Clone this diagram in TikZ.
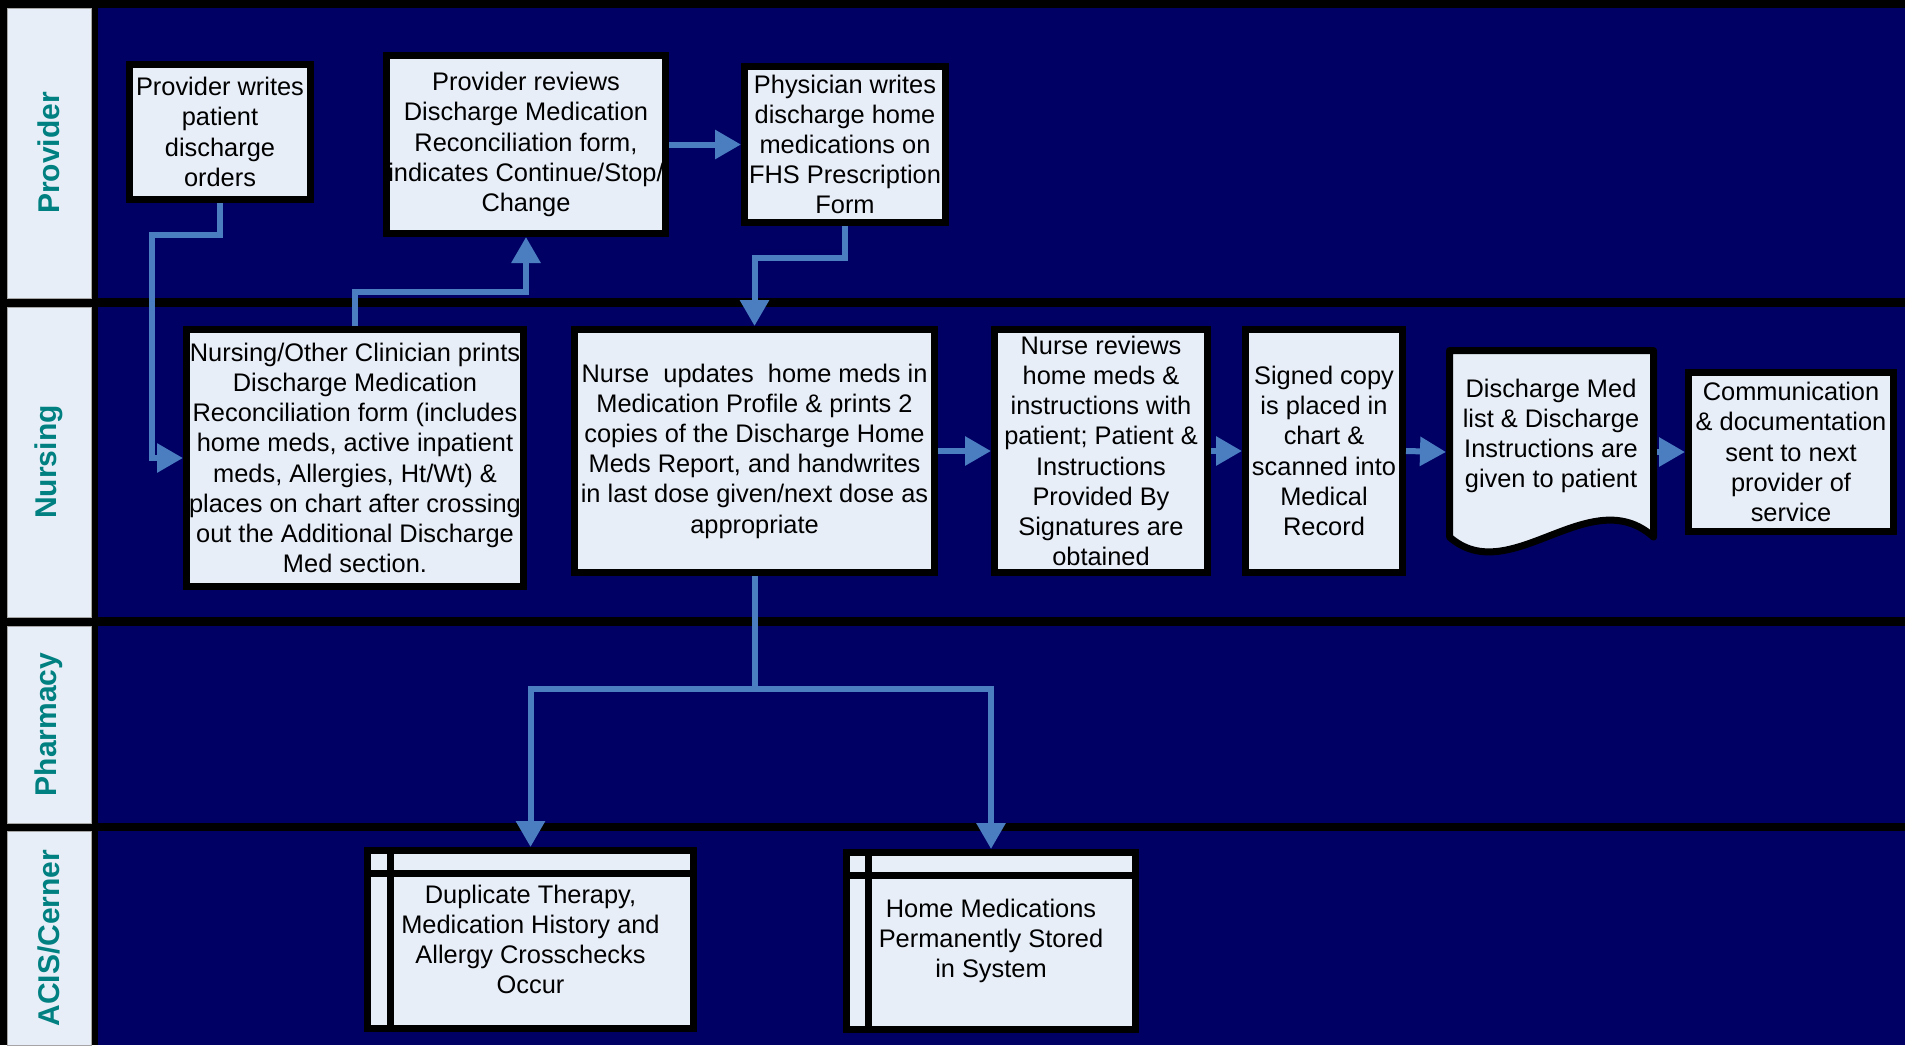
\documentclass[tikz,border=0pt]{standalone}
\usepackage{fontspec}
\setmainfont{Liberation Sans}
\usetikzlibrary{arrows.meta,calc}
\definecolor{navy}{RGB}{0,0,100}
\definecolor{boxfill}{RGB}{232,238,248}
\definecolor{teal2}{RGB}{0,128,128}
\definecolor{conn}{RGB}{74,126,193}
\begin{document}
\begin{tikzpicture}[x=0.5pt,y=-0.5pt,
  lanebox/.style={fill=boxfill,draw=gray!70,line width=0.5pt},
  lanefill/.style={fill=navy},
  lanelabel/.style={rotate=90,text=teal2,font=\fontsize{15}{17}\selectfont\bfseries},
  box/.style={draw=black,line width=3.5pt,fill=boxfill,inner sep=0pt,align=center,
    font=\fontsize{12.7}{15.1}\selectfont},
  txt/.style={inner sep=0pt,align=center,font=\fontsize{12.7}{15.1}\selectfont},
  flow/.style={draw=conn,line width=3pt,-{Triangle[length=13pt,width=14pt]}},
  flowline/.style={draw=conn,line width=3pt}
]
% background
\fill[black] (0,0) rectangle (1905,1045);
\useasboundingbox (0,0) rectangle (1905,1045);
% lanes
\fill[lanefill] (98,8) rectangle (1905,298);
\fill[lanefill] (98,307) rectangle (1905,617);
\fill[lanefill] (98,626) rectangle (1905,823);
\fill[lanefill] (98,831) rectangle (1905,1045);
\draw[lanebox] (7,8) rectangle (91,298);
\draw[lanebox] (7,307) rectangle (91,617);
\draw[lanebox] (7,626) rectangle (91,823);
\draw[lanebox] (7,831) rectangle (91,1045);
\node[lanelabel] (lp) at (49,153) {Provider};
\node[lanelabel] (ln) at (49,462) {Nursing};
\node[lanelabel] (lph) at (49,724.5) {Pharmacy};
\node[lanelabel] (la) at (49,938) {ACIS/Cerner};

% Provider lane
\node[box,minimum width=90.5pt,minimum height=67.5pt] (b1) at (220,132)
  {Provider writes\\patient\\discharge\\orders};
\node[box,minimum width=139.5pt,minimum height=89pt] (b2) at (526,144.5)
  {Provider reviews\\Discharge Medication\\Reconciliation form,\\indicates Continue/Stop/\\Change};
\node[box,minimum width=100.5pt,minimum height=78pt] (b3) at (845,144.5)
  {Physician writes\\discharge home\\medications on\\FHS Prescription\\Form};

% Nursing lane
\node[box,minimum width=168.5pt,minimum height=128.5pt] (b4) at (355,458)
  {Nursing/Other Clinician prints\\Discharge Medication\\Reconciliation form (includes\\home meds, active inpatient\\meds, Allergies, Ht/Wt) \&\\places on chart after crossing\\out the Additional Discharge\\Med section.};
\node[box,minimum width=180pt,minimum height=121.5pt] (b5) at (754.5,451)
  {Nurse\ \ updates\ \ home meds in\\Medication Profile \& prints 2\\copies of the Discharge Home\\Meds Report, and handwrites\\in last dose given/next dose as\\appropriate};
\node[box,minimum width=106.5pt,minimum height=121.5pt] (b6) at (1101,451)
  {Nurse reviews\\home meds \&\\instructions with\\patient; Patient \&\\Instructions\\Provided By\\Signatures are\\obtained};
\node[box,minimum width=78.5pt,minimum height=121.5pt] (b7) at (1324,451)
  {Signed copy\\is placed in\\chart \&\\scanned into\\Medical\\Record};
% document shape
\draw[draw=black,line width=3.5pt,fill=boxfill,line join=round]
  (1449.5,350.5) -- (1653.5,350.5) -- (1653.5,537)
  .. controls (1590,480) and (1510,590) .. (1449.5,537) -- cycle;
\node[txt] (b8) at (1551,436)
  {Discharge Med\\list \& Discharge\\Instructions are\\given to patient};
\coordinate (docW) at (1446,452);
\coordinate (docE) at (1657,452);
\node[box,minimum width=102.5pt,minimum height=79.5pt] (b9) at (1791,452)
  {Communication\\\& documentation\\sent to next\\provider of\\service};

% ACIS lane
\node[box,minimum width=163pt,minimum height=89pt] (b10) at (530.5,939.5)
  {Duplicate Therapy,\\Medication History and\\Allergy Crosschecks\\Occur};
\draw[line width=3.5pt] ($(b10.north west)+(26,0)$) -- ($(b10.south west)+(26,0)$);
\draw[line width=3.5pt] ($(b10.north west)+(0,26)$) -- ($(b10.north east)+(0,26)$);
\node[box,minimum width=144.5pt,minimum height=88.5pt] (b11) at (991,941)
  {Home Medications\\Permanently Stored\\in System};
\draw[line width=3.5pt] ($(b11.north west)+(25,0)$) -- ($(b11.south west)+(25,0)$);
\draw[line width=3.5pt] ($(b11.north west)+(0,26)$) -- ($(b11.north east)+(0,26)$);

% connectors
\coordinate (c1) at (152,235);
\draw[flow] (b1.south) |- (c1) |- (b4.west);
\draw[flow] (b4.north) -- ++(0,-34) -| (b2.south);
\draw[flow] (b2.east) -- (b3.west);
\draw[flow] (b3.south) -- ++(0,32) -| (b5.north);
\draw[flow] (b5.east) -- (b6.west);
\draw[flow] (b6.east) -- (b7.west);
\draw[flow] (b7.east) -- (docW);
\draw[flow] (docE) -- (b9.west);
\coordinate (c9) at (754.5,689);
\draw[flowline] (b5.south) -- (c9);
\draw[flow] (c9) -| (b10.north);
\draw[flow] (c9) -| (b11.north);
\end{tikzpicture}
\end{document}
